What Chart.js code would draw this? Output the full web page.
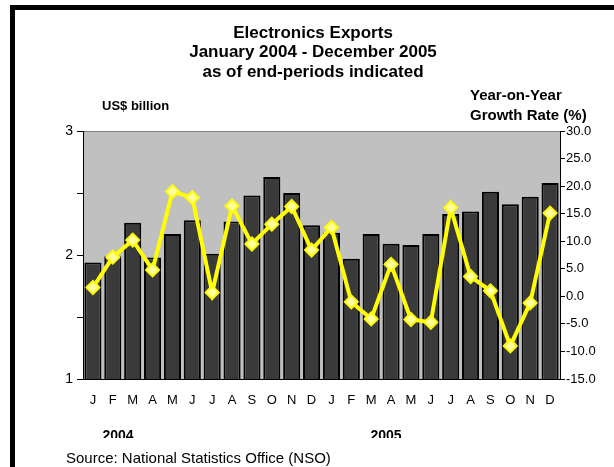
<!DOCTYPE html>
<html>
<head>
<meta charset="utf-8">
<script src="https://cdn.jsdelivr.net/npm/chart.js@4.4.1/dist/chart.umd.min.js"></script>
<style>
  html, body { margin: 0; padding: 0; background: #fff; }
  #wrap { width: 614px; height: 467px; position: relative; }
</style>
</head>
<body>
<div id="wrap"><canvas id="exportsChart" width="614" height="467"></canvas></div>
<script>
const months = ['J', 'F', 'M', 'A', 'M', 'J', 'J', 'A', 'S', 'O', 'N', 'D',
                'J', 'F', 'M', 'A', 'M', 'J', 'J', 'A', 'S', 'O', 'N', 'D'];

// US$ billion (left axis)
const exportsValue = [1.94, 1.99, 2.26, 1.98, 2.17, 2.28, 2.01, 2.27, 2.48, 2.63, 2.50, 2.24,
                      2.18, 1.97, 2.17, 2.09, 2.08, 2.17, 2.33, 2.35, 2.51, 2.41, 2.47, 2.58];

// year-on-year growth rate, % (right axis)
const growthRate = [1.6, 7.1, 10.2, 4.8, 19.0, 17.9, 0.7, 16.4, 9.5, 13.1, 16.3, 8.4,
                    12.5, -1.0, -4.1, 5.8, -4.2, -4.7, 16.1, 3.6, 1.0, -9.0, -1.2, 15.1];

const titleLines = ['Electronics Exports', 'January 2004 - December 2005', 'as of end-periods indicated'];
const years = ['2004', '2005'];
const sourceNote = 'Source: National Statistics Office (NSO)';

const FONT = '"Liberation Sans", Arial, sans-serif';

const frame = {
  id: 'frame',
  beforeDraw(chart) {
    const { ctx, chartArea: a } = chart;
    ctx.save();
    ctx.fillStyle = '#fff';
    ctx.fillRect(0, 0, chart.width, chart.height);
    // thick black frame on top and left
    ctx.fillStyle = '#000';
    ctx.fillRect(10, 5, chart.width - 10, 5);
    ctx.fillRect(10, 5, 5, chart.height - 5);
    // grey plot area
    ctx.fillStyle = '#c0c0c0';
    ctx.fillRect(a.left, a.top, a.right - a.left, a.bottom - a.top);
    ctx.fillStyle = '#808080';
    ctx.fillRect(a.left, a.top, a.right - a.left, 1);
    ctx.restore();
  },
  afterDraw(chart) {
    const { ctx } = chart;
    ctx.save();
    ctx.fillStyle = '#000';
    ctx.textBaseline = 'middle';
    ctx.textAlign = 'center';
    ctx.font = 'bold 17px ' + FONT;
    titleLines.forEach((t, i) => ctx.fillText(t, 313, 33 + i * 19.5));

    ctx.textAlign = 'left';
    ctx.font = 'bold 13px ' + FONT;
    ctx.fillText('US$ billion', 102, 106);
    ctx.font = 'bold 15px ' + FONT;
    ctx.fillText('Year-on-Year', 470, 96);
    ctx.fillText('Growth Rate (%)', 470, 116);

    // bottom labels are cut off in the original
    ctx.save();
    ctx.beginPath();
    ctx.rect(0, 0, chart.width, 438);
    ctx.clip();
    ctx.textAlign = 'center';
    ctx.font = 'bold 14px ' + FONT;
    ctx.fillText(years[0], 118, 436);
    ctx.fillText(years[1], 386, 436);
    ctx.restore();

    ctx.textAlign = 'left';
    ctx.font = '15px ' + FONT;
    ctx.fillText(sourceNote, 66, 459);
    ctx.restore();
  }
};

const ctx = document.getElementById('exportsChart');

new Chart(ctx, {
  type: 'bar',
  data: {
    labels: months,
    datasets: [
      {
        type: 'line',
        label: 'Growth Rate',
        data: growthRate,
        yAxisID: 'y1',
        borderColor: '#ffff00',
        borderWidth: 4,
        pointStyle: 'rectRot',
        pointRadius: 6.5,
        pointBackgroundColor: '#ffffa0',
        pointBorderColor: '#ffff00',
        pointBorderWidth: 2,
        tension: 0,
        order: 0
      },
      {
        label: 'Exports',
        data: exportsValue,
        yAxisID: 'y',
        backgroundColor: (c) => {
          const area = c.chart.chartArea;
          const el = c.element;
          if (!area || !el || !el.width) return '#3a3a3a';
          const g = c.chart.ctx.createLinearGradient(el.x - el.width / 2, 0, el.x + el.width / 2, 0);
          g.addColorStop(0, '#2a2a2a');
          g.addColorStop(0.5, '#444444');
          g.addColorStop(1, '#2a2a2a');
          return g;
        },
        borderColor: '#000',
        borderWidth: 2,
        borderSkipped: 'bottom',
        barPercentage: 0.86,
        categoryPercentage: 1.0,
        order: 1
      }
    ]
  },
  options: {
    responsive: false,
    animation: false,
    layout: { padding: { top: 131, left: 0, right: 0, bottom: 0 } },
    plugins: {
      legend: { display: false },
      title: { display: false },
      tooltip: { enabled: false }
    },
    scales: {
      x: {
        grid: { display: false },
        border: { display: true, color: '#000', width: 1 },
        ticks: {
          color: '#000',
          font: { size: 13, family: FONT },
          padding: 6,
          maxRotation: 0,
          autoSkip: false
        },
        afterFit: (scale) => { scale.height = 88; }
      },
      y: {
        position: 'left',
        min: 1,
        max: 3,
        grid: { drawOnChartArea: false, drawTicks: true, tickLength: 6, color: '#000' },
        border: { display: true, color: '#000', width: 1 },
        ticks: {
          stepSize: 0.5,
          color: '#000',
          font: { size: 14, family: FONT },
          padding: 4,
          callback: (v) => Number.isInteger(v) ? String(v) : ''
        },
        afterFit: (scale) => { scale.width = 83; }
      },
      y1: {
        position: 'right',
        min: -15,
        max: 30,
        grid: { drawOnChartArea: false, drawTicks: true, tickLength: 5, color: '#000' },
        border: { display: true, color: '#000', width: 1 },
        ticks: {
          stepSize: 5,
          color: '#000',
          font: { size: 13, family: FONT },
          padding: 1,
          callback: (v) => v.toFixed(1)
        },
        afterFit: (scale) => { scale.width = 54; }
      }
    }
  },
  plugins: [frame]
});
</script>
</body>
</html>
